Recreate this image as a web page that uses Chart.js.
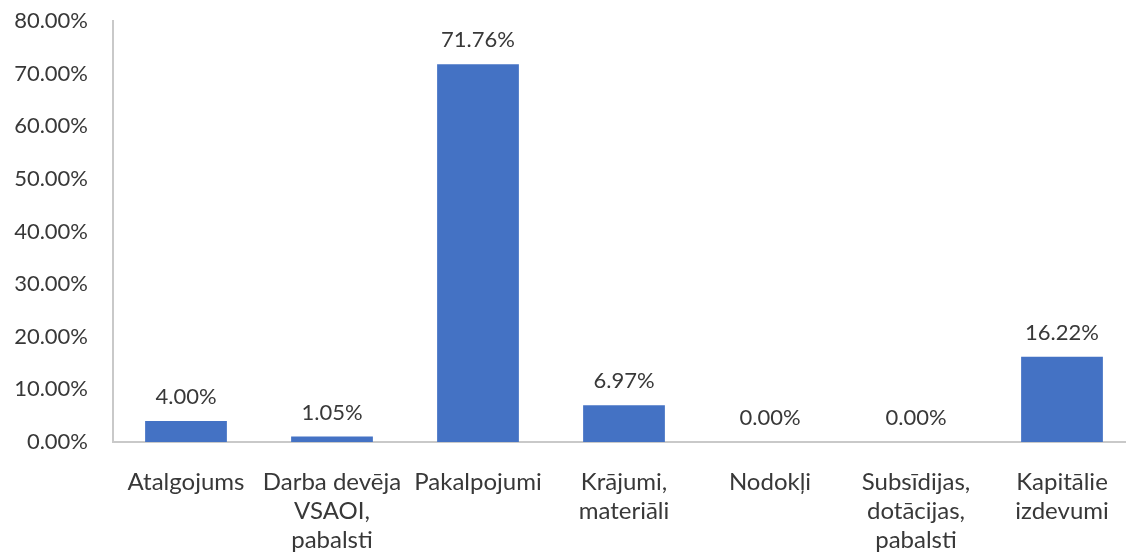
<!DOCTYPE html>
<html>
<head>
<meta charset="utf-8">
<script src="https://cdn.jsdelivr.net/npm/chart.js@4/dist/chart.umd.min.js"></script>
<style>
  html, body { margin: 0; padding: 0; background: #ffffff; overflow: hidden; }
  #wrap { position: absolute; left: 0; top: 0; width: 1140px; height: 554px; }
</style>
</head>
<body>
<div id="wrap"><canvas id="c" width="1140" height="554"></canvas></div>
<script>
const categories = [
  "Atalgojums",
  ["Darba devēja", "VSAOI,", "pabalsti"],
  "Pakalpojumi",
  ["Krājumi,", "materiāli"],
  "Nodokļi",
  ["Subsīdijas,", "dotācijas,", "pabalsti"],
  ["Kapitālie", "izdevumi"]
];
const shares = [4.00, 1.05, 71.76, 6.97, 0.00, 0.00, 16.22];
const yTicks = [0, 10, 20, 30, 40, 50, 60, 70, 80];

const FONT = "Lato, 'Open Sans', sans-serif";
const TEXT = "#383838";

const valueLabels = {
  id: 'valueLabels',
  afterDatasetsDraw(chart) {
    const ctx = chart.ctx;
    const meta = chart.getDatasetMeta(0);
    ctx.save();
    ctx.font = "22px " + FONT;
    ctx.fillStyle = TEXT;
    ctx.textAlign = 'center';
    ctx.textBaseline = 'middle';
    meta.data.forEach((bar, i) => {
      ctx.fillText(shares[i].toFixed(2) + '%', bar.x, bar.y - 24);
    });
    ctx.restore();
  }
};

new Chart(document.getElementById('c'), {
  type: 'bar',
  data: {
    labels: categories,
    datasets: [{
      data: shares,
      backgroundColor: '#4472C4',
      borderWidth: 0,
      barPercentage: 0.56,
      categoryPercentage: 1.0
    }]
  },
  options: {
    responsive: false,
    animation: false,
    devicePixelRatio: 1,
    layout: { padding: { top: 21, right: 5, left: 0, bottom: 0 } },
    plugins: { legend: { display: false }, tooltip: { enabled: false } },
    scales: {
      x: {
        grid: { display: false, drawTicks: false },
        border: { display: true, color: '#c9c9c9', width: 2 },
        ticks: {
          color: TEXT,
          font: { family: FONT, size: 24, lineHeight: 1.2 },
          padding: 26,
          maxRotation: 0,
          autoSkip: false
        },
        afterFit(scale) { scale.height = 112; scale.paddingLeft = 0; scale.paddingRight = 0; }
      },
      y: {
        min: 0,
        max: 80,
        afterBuildTicks(scale) { scale.ticks = yTicks.map(v => ({ value: v })); },
        grid: { display: false, drawTicks: false },
        border: { display: true, color: '#c9c9c9', width: 2 },
        ticks: {
          color: TEXT,
          font: { family: FONT, size: 22 },
          padding: 25,
          callback: v => Number(v).toFixed(2) + '%'
        },
        afterFit(scale) { scale.width = 113; scale.paddingTop = 0; scale.paddingBottom = 0; }
      }
    }
  },
  plugins: [valueLabels]
});
</script>
</body>
</html>
